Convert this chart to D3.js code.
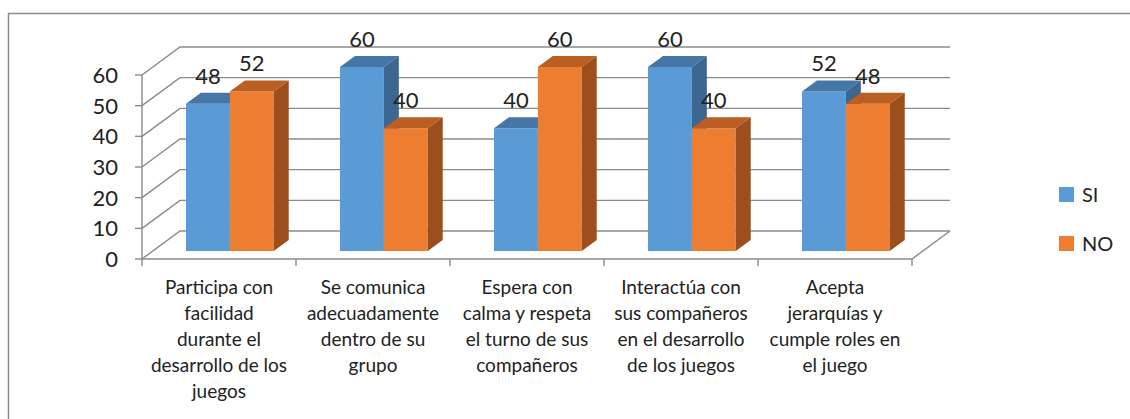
<!DOCTYPE html>
<html>
<head>
<meta charset="utf-8">
<script src="https://cdnjs.cloudflare.com/ajax/libs/d3/7.8.5/d3.min.js"></script>
<style>
  body { margin: 0; background: #fff; }
  svg text { font-family: Lato, "Open Sans", sans-serif; fill: #222; }
</style>
</head>
<body>
<div class="canva"></div>
<script>
// data
const categories = [
  ["Participa con", "facilidad", "durante el", "desarrollo de los", "juegos"],
  ["Se comunica", "adecuadamente", "dentro de su", "grupo"],
  ["Espera con", "calma y respeta", "el turno de sus", "compañeros"],
  ["Interactúa con", "sus compañeros", "en el desarrollo", "de los juegos"],
  ["Acepta", "jerarquías y", "cumple roles en", "el juego"]
];
const seriesNames = ["SI", "NO"];
const siValues = [48, 60, 40, 60, 52];
const noValues = [52, 40, 60, 40, 48];
const yTicks = [0, 10, 20, 30, 40, 50, 60];

const front = ["#5B9BD5", "#ED7D31"];
const topCol = ["#4676a5", "#bb5e22"];
const sideCol = ["#3c6791", "#9c4f1d"];

const svg = d3.select(".canva").append("svg")
  .attr("width", 1130)
  .attr("height", 419);

// outer frame
svg.append("rect")
  .attr("x", 8.5).attr("y", 13.5)
  .attr("width", 1140).attr("height", 430)
  .attr("fill", "none")
  .attr("stroke", "#8c8c8c")
  .attr("stroke-width", 1.5);

// 3d projection: depth vector for the whole floor
const DX = 38, DY = -28;
const x = d3.scaleBand().domain(d3.range(5)).range([142, 912]).paddingInner(0.43).paddingOuter(0.215);
const xs = d3.scaleBand().domain([0, 1]).range([0, x.bandwidth()]);
const y = d3.scaleLinear().domain([0, 60]).range([259, 75]);
const P = (px, v, z) => [px + DX * z, y(v) + DY * z];

const grid = svg.append("g").attr("stroke", "#8a8a8a").attr("stroke-width", 1.4).attr("fill", "none");

// back wall and side wall lines
yTicks.forEach(t => {
  const a = P(142, t, 0), b = P(142, t, 1), c = P(912, t, 1);
  grid.append("path").attr("d", d3.line()([a, b, c]));
  grid.append("line").attr("x1", 135).attr("x2", 142).attr("y1", y(t)).attr("y2", y(t));
});
// floor front + right edge, left axis
grid.append("path").attr("d", d3.line()([P(142, 0, 0), P(912, 0, 0), P(912, 0, 1)]));
grid.append("line").attr("x1", 142).attr("x2", 142).attr("y1", y(0)).attr("y2", y(60));
d3.range(6).forEach(i => {
  const px = 142 + i * x.step();
  grid.append("line").attr("x1", px).attr("x2", px).attr("y1", y(0)).attr("y2", y(0) + 7);
});

// y labels
svg.append("g").selectAll("text").data(yTicks).join("text")
  .attr("x", 118).attr("y", d => y(d))
  .attr("dy", "0.36em")
  .attr("text-anchor", "end")
  .style("font-size", "22px")
  .text(d => d);

// bars
const z0 = 0.286, z1 = 0.68;
const bars = svg.append("g");
const labels = [];
categories.forEach((c, i) => {
  [siValues[i], noValues[i]].forEach((v, s) => {
    const x0 = x(i) + xs(s), x1 = x0 + xs.bandwidth();
    const fr = [P(x0, 0, z0), P(x1, 0, z0), P(x1, v, z0), P(x0, v, z0)];
    const tp = [P(x0, v, z0), P(x1, v, z0), P(x1, v, z1), P(x0, v, z1)];
    const sd = [P(x1, 0, z0), P(x1, 0, z1), P(x1, v, z1), P(x1, v, z0)];
    bars.append("path").attr("d", d3.line()(fr) + "Z").attr("fill", front[s]);
    bars.append("path").attr("d", d3.line()(tp) + "Z").attr("fill", topCol[s]);
    bars.append("path").attr("d", d3.line()(sd) + "Z").attr("fill", sideCol[s]);
    const p = P((x0 + x1) / 2, v, z0);
    labels.push({ x: p[0], y: p[1] - 28, v: v });
  });
});

svg.append("g").selectAll("text").data(labels).join("text")
  .attr("x", d => d.x).attr("y", d => d.y)
  .attr("dy", "0.36em")
  .attr("text-anchor", "middle")
  .style("font-size", "22px")
  .text(d => d.v);

// category labels
const cat = svg.append("g").selectAll("text").data(categories).join("text")
  .attr("text-anchor", "middle")
  .style("font-size", "19px");
cat.selectAll("tspan").data((d, i) => d.map(l => ({ l: l, i: i }))).join("tspan")
  .attr("x", d => x(d.i) + x.bandwidth() / 2)
  .attr("y", (d, j) => 287 + j * 26)
  .attr("dy", "0.35em")
  .text(d => d.l);

// legend
const leg = svg.append("g").selectAll("g").data(seriesNames).join("g")
  .attr("transform", (d, i) => `translate(1059, ${187 + i * 49})`);
leg.append("rect").attr("width", 15).attr("height", 15).attr("fill", (d, i) => front[i]);
leg.append("text").attr("x", 23).attr("y", 8).attr("dy", "0.36em")
  .style("font-size", "20px").text(d => d);
</script>
</body>
</html>
